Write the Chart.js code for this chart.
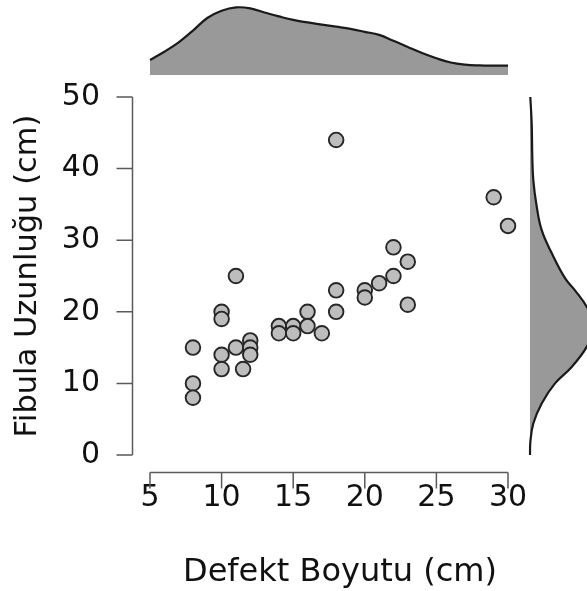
<!DOCTYPE html>
<html>
<head>
<meta charset="utf-8">
<script src="https://cdn.jsdelivr.net/npm/chart.js@4.4.1/dist/chart.umd.min.js"></script>
<style>
  html, body { margin: 0; padding: 0; background: #ffffff; width: 587px; height: 591px; overflow: hidden; }
  canvas { position: absolute; top: 0; }
</style>
</head>
<body>
<canvas id="main" width="587" height="591" style="left:0"></canvas>
<canvas id="top" width="587" height="80" style="left:0"></canvas>
<canvas id="right" width="100" height="591" style="left:520px"></canvas>
<script>
// ---- data ----
const defektBoyutu   = [8, 8, 8, 10, 10, 10, 10, 11, 11, 11.5, 12, 12, 12, 14, 14, 15, 15, 16, 16, 17, 18, 18, 18, 20, 20, 21, 22, 22, 23, 23, 29, 30];
const fibulaUzunlugu = [15, 10, 8, 20, 19, 14, 12, 25, 15, 12, 16, 15, 14, 18, 17, 18, 17, 20, 18, 17, 44, 23, 20, 23, 22, 24, 29, 25, 27, 21, 36, 32];

const xTicks = [5, 10, 15, 20, 25, 30];
const yTicks = [0, 10, 20, 30, 40, 50];

// marginal density of Defekt Boyutu (relative height)
const topDensX = [5, 6, 7, 8, 9, 10, 11, 12, 13, 14, 15, 16, 17, 18, 19, 20, 21, 22, 23, 24, 25, 26, 27, 28, 29, 30];
const topDensY = [15, 23.2, 32.6, 44.4, 57, 64.2, 67.6, 66.7, 62.5, 58.6, 55.1, 52.6, 50.4, 48.3, 46.1, 43.2, 40.1, 34.2, 28, 21.9, 16.7, 12.5, 10.4, 9.6, 9.3, 9.3];

// marginal density of Fibula Uzunluğu (relative width)
const rightDensY = [0, 1.6, 4.4, 7.2, 10, 12.3, 15.1, 18, 20.7, 23, 24.7, 28.2, 31.4, 34.7, 38.4, 41.7, 46.3, 50];
const rightDensX = [0, 0.2, 3.3, 11.7, 25, 41.7, 56.7, 65, 56.7, 45, 35, 21.7, 11.7, 6.7, 3.3, 2.3, 1.7, 0.3];

const xTitle = 'Defekt Boyutu (cm)';
const yTitle = 'Fibula Uzunluğu (cm)';

const FONT = 'DejaVu Sans';
const AXIS_COLOR = '#5a5a5a';
const TEXT_COLOR = '#111111';

const cappedAxes = {
  id: 'cappedAxes',
  afterDraw(chart) {
    const {ctx, chartArea, scales: {x, y}} = chart;
    const gap = 17.5, tick = 16;
    const ax = chartArea.left - gap;
    const ay = chartArea.bottom + gap;
    ctx.save();
    ctx.strokeStyle = AXIS_COLOR;
    ctx.lineWidth = 1.5;
    ctx.beginPath();
    ctx.moveTo(ax, y.getPixelForValue(yTicks[0]));
    ctx.lineTo(ax, y.getPixelForValue(yTicks[yTicks.length - 1]));
    yTicks.forEach(v => { const p = y.getPixelForValue(v); ctx.moveTo(ax, p); ctx.lineTo(ax - tick, p); });
    ctx.moveTo(x.getPixelForValue(xTicks[0]), ay);
    ctx.lineTo(x.getPixelForValue(xTicks[xTicks.length - 1]), ay);
    xTicks.forEach(v => { const p = x.getPixelForValue(v); ctx.moveTo(p, ay); ctx.lineTo(p, ay + tick); });
    ctx.stroke();
    // x axis title, centred under the plot panel including its right margin
    ctx.fillStyle = TEXT_COLOR;
    ctx.font = '32px "' + FONT + '"';
    ctx.textAlign = 'center';
    ctx.textBaseline = 'middle';
    ctx.fillText(xTitle, chartArea.left + (chartArea.width + 22) / 2, chart.height - 18);
    ctx.restore();
  }
};

new Chart(document.getElementById('main'), {
  type: 'scatter',
  data: {
    datasets: [{
      data: defektBoyutu.map((v, i) => ({x: v, y: fibulaUzunlugu[i]})),
      pointRadius: 7.3,
      pointHoverRadius: 7.3,
      pointBackgroundColor: '#bdbdbd',
      pointBorderColor: '#262626',
      pointBorderWidth: 1.9,
      clip: false
    }]
  },
  options: {
    responsive: false,
    animation: false,
    events: [],
    layout: { padding: { top: 97, right: 79, bottom: 0, left: 0 } },
    plugins: { legend: { display: false }, tooltip: { enabled: false } },
    scales: {
      x: {
        type: 'linear', min: 5, max: 30,
        afterBuildTicks: s => { s.ticks = xTicks.map(v => ({value: v})); },
        afterFit: s => { s.height = 136; },
        grid: { display: false, drawTicks: false, tickLength: 0 },
        border: { display: false },
        ticks: { padding: 25, color: TEXT_COLOR, font: { family: FONT, size: 30 }, maxRotation: 0, autoSkip: false },
        title: { display: false }
      },
      y: {
        type: 'linear', min: 0, max: 50,
        afterBuildTicks: s => { s.ticks = yTicks.map(v => ({value: v})); },
        afterFit: s => { s.width = 150; },
        grid: { display: false, drawTicks: false, tickLength: 0 },
        border: { display: false },
        ticks: { padding: 50, color: TEXT_COLOR, font: { family: FONT, size: 30 }, autoSkip: false },
        title: { display: true, text: yTitle, color: TEXT_COLOR, font: { family: FONT, size: 30.5 }, padding: { top: 10, bottom: 0 } }
      }
    }
  },
  plugins: [cappedAxes]
});

new Chart(document.getElementById('top'), {
  type: 'scatter',
  data: {
    datasets: [{
      data: topDensX.map((v, i) => ({x: v, y: topDensY[i]})),
      showLine: true,
      fill: 'origin',
      backgroundColor: '#999999',
      borderColor: '#1a1a1a',
      borderWidth: 2.2,
      pointRadius: 0,
      tension: 0.4,
      clip: false
    }]
  },
  options: {
    responsive: false,
    animation: false,
    events: [],
    layout: { padding: { top: 0, right: 79, bottom: 5, left: 150 } },
    plugins: { legend: { display: false }, tooltip: { enabled: false } },
    scales: {
      x: { type: 'linear', min: 5, max: 30, display: false },
      y: { type: 'linear', min: 0, max: 75, display: false }
    }
  }
});

new Chart(document.getElementById('right'), {
  type: 'line',
  data: {
    datasets: [{
      data: rightDensY.map((v, i) => ({x: rightDensX[i], y: v})),
      fill: 'origin',
      backgroundColor: '#999999',
      borderColor: '#1a1a1a',
      borderWidth: 2.2,
      pointRadius: 0,
      tension: 0.4,
      clip: false
    }]
  },
  options: {
    indexAxis: 'y',
    responsive: false,
    animation: false,
    events: [],
    layout: { padding: { top: 97, right: 0, bottom: 136, left: 10 } },
    plugins: { legend: { display: false }, tooltip: { enabled: false } },
    scales: {
      x: { type: 'linear', min: 0, max: 90, display: false },
      y: { type: 'linear', min: 0, max: 50, display: false }
    }
  }
});
</script>
</body>
</html>
